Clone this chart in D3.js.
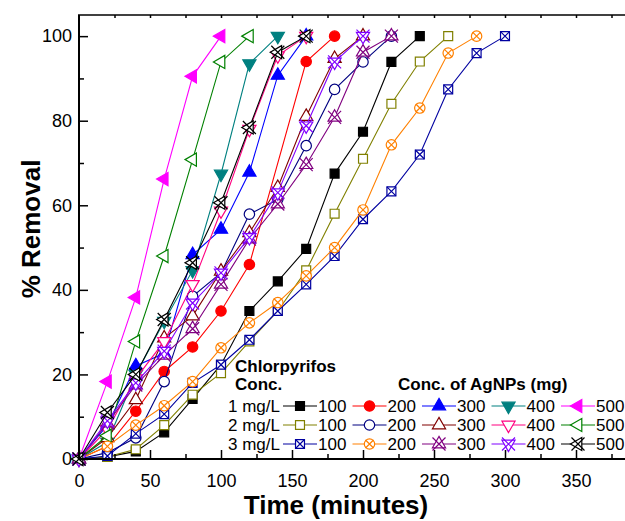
<!DOCTYPE html>
<html>
<head>
<meta charset="utf-8">
<script src="https://cdn.jsdelivr.net/npm/d3@7"></script>
<style>
  html, body { margin: 0; background: #fff; }
  svg { display: block; font-family: "Liberation Sans", Arial, sans-serif; }
</style>
</head>
<body>
<svg id="grafico" width="625" height="521"></svg>
<script>
// tempos de coleta (min)
const tempos = [0, 20, 40, 60, 80, 100, 120, 140, 160, 180, 200, 220, 240, 260, 280, 300];

// % remoção — clorpirifós 1 mg/L (null = ponto ausente)
const rem1_100 = [0, 0.5, 1.8, 6.3, 14.2, 22.3, 35, 42, 49.7, 67.5, 77.4, 93.9, 100];
const rem1_200 = [0, 3, 11.3, 20.7, 26.5, 35, 46, null, 94, 100];
const rem1_300 = [0, 8, 22, 25, 48.3, 54.3, 67.8, 90.7, 100];
const rem1_400 = [0, 4, 20, 32.6, 44.6, 67.4, 93.5, 100];
const rem1_500 = [0, 18.3, 38.2, 66.2, 90.5, 100];

// clorpirifós 2 mg/L
const rem2_100 = [0, 0.5, 2.3, 8, 15.2, 20.3, 27.8, 35, 44.6, 58, 71, 84, 94, 100];
const rem2_200 = [0, 1.5, 5, 18.3, 38.5, 44, 57.9, 61.4, 74.1, 87.4, 93.9, 100];
const rem2_300 = [0, 5, 14, 28.6, 33.8, 44.4, 53.5, 64.2, 81, 94.7, 100];
const rem2_400 = [0, 7, 19, 27.8, 41.3, 58.7, 78, 95.4, 100];
const rem2_500 = [0, 5.5, 27.8, 48, 70.8, 93.9, 100];

// clorpirifós 3 mg/L
const rem3_100 = [0, 0.7, 6, 10.6, 18, 22.3, 28.2, 35, 41.3, 48, 56.7, 63.3, 72, 87.4, 96, 100];
const rem3_200 = [0, 3, 8, 12.6, 18.3, 26.3, 32.2, 37, 43.3, 50, 58.9, 74.3, 83, 96, 100];
const rem3_300 = [0, 8.5, 17.5, 24.5, 30.8, 41.3, 52, 60.3, 69.6, 80.8, 96.2, 100];
const rem3_400 = [0, 9, 18, 25.5, 36.9, 44, 52.4, 63, 78.8, 93.9, 100];
const rem3_500 = [0, 11, 20, 33, 46.4, 60.6, 78.4, 96.2, 100];

const linhasConc = ["1 mg/L", "2 mg/L", "3 mg/L"];
const dosesAgNP = ["100", "200", "300", "400", "500"];
const ticksX = [0, 50, 100, 150, 200, 250, 300, 350];
const ticksY = [0, 20, 40, 60, 80, 100];

// estilo de cada série: [linha][dose]
const estilos = [
  [
    { cor: "#000000", forma: "quadrado", cheio: true },
    { cor: "#ff0000", forma: "circulo", cheio: true },
    { cor: "#0000ff", forma: "triCima", cheio: true },
    { cor: "#008080", forma: "triBaixo", cheio: true },
    { cor: "#ff00ff", forma: "triEsq", cheio: true }
  ],
  [
    { cor: "#808000", forma: "quadrado" },
    { cor: "#000080", forma: "circulo" },
    { cor: "#800000", forma: "triCima" },
    { cor: "#ff0080", forma: "triBaixo" },
    { cor: "#008000", forma: "triEsq" }
  ],
  [
    { cor: "#0000a0", forma: "quadrado", xis: 4.5 },
    { cor: "#ff8000", forma: "circulo", xis: 4 },
    { cor: "#800080", forma: "triCima", xis: 6.5 },
    { cor: "#8000ff", forma: "triBaixo", xis: 6.5 },
    { cor: "#000000", forma: "triEsq", xis: 6.5 }
  ]
];
const valores = [
  [rem1_100, rem1_200, rem1_300, rem1_400, rem1_500],
  [rem2_100, rem2_200, rem2_300, rem2_400, rem2_500],
  [rem3_100, rem3_200, rem3_300, rem3_400, rem3_500]
];

// eixo x vai até 400, a moldura direita fica fora do recorte
const x = d3.scaleLinear().domain([0, 400]).range([79, 647]);
const y = d3.scaleLinear().domain([0, 105]).range([459, 15]);

const svg = d3.select("#grafico");

const simbolos = {
  quadrado: { tipo: d3.symbolSquare, tam: 80, rot: 0 },
  circulo: { tipo: d3.symbolCircle, tam: 85, rot: 0 },
  triCima: { tipo: d3.symbolTriangle, tam: 75, rot: 0 },
  triBaixo: { tipo: d3.symbolTriangle, tam: 75, rot: 180 },
  triEsq: { tipo: d3.symbolTriangle, tam: 75, rot: -90 }
};

function marcador(g, est, cx, cy) {
  const s = simbolos[est.forma];
  const m = g.append("g").attr("transform", `translate(${cx},${cy})`);
  m.append("path")
    .attr("d", d3.symbol(s.tipo, s.tam)())
    .attr("transform", `rotate(${s.rot})`)
    .attr("fill", est.cheio ? est.cor : "#fff")
    .attr("stroke", est.cor)
    .attr("stroke-width", 1.2);
  if (est.xis) {
    const k = est.xis;
    m.append("path")
      .attr("d", `M${-k},${-k}L${k},${k}M${-k},${k}L${k},${-k}`)
      .attr("stroke", est.cor)
      .attr("stroke-width", 1.2)
      .attr("fill", "none");
  }
}

// séries
const linha = d3.line().x((d) => x(d.t)).y((d) => y(d.v));
const gSeries = svg.append("g");
valores.forEach((grupo, i) => {
  grupo.forEach((vals, j) => {
    const est = estilos[i][j];
    const pts = vals.map((v, k) => ({ t: tempos[k], v })).filter((d) => d.v !== null);
    const g = gSeries.append("g");
    g.append("path")
      .attr("d", linha(pts))
      .attr("fill", "none")
      .attr("stroke", est.cor)
      .attr("stroke-width", 1.1);
    pts.forEach((d) => marcador(g, est, x(d.t), y(d.v)));
  });
});

// eixos
const estiloEixo = (sel) => {
  sel.select(".domain").remove();
  sel.selectAll("line").attr("stroke", "#000").attr("stroke-width", 1.5);
  sel.selectAll("text").attr("fill", "#000").attr("font-size", "18px")
    .attr("font-family", "'Liberation Sans', Arial, sans-serif");
};

svg.append("g")
  .attr("transform", "translate(79,0)")
  .call(d3.axisLeft(y).tickValues([10, 30, 50, 70, 90]).tickSize(-5).tickFormat(""))
  .call(estiloEixo);
svg.append("g")
  .attr("transform", "translate(79,0)")
  .call(d3.axisLeft(y).tickValues(ticksY).tickSize(-9).tickPadding(7))
  .call(estiloEixo);

svg.append("g")
  .attr("transform", "translate(0,459)")
  .call(d3.axisBottom(x).tickValues(d3.range(25, 400, 50)).tickSize(-5).tickFormat(""))
  .call(estiloEixo);
svg.append("g")
  .attr("transform", "translate(0,459)")
  .call(d3.axisBottom(x).tickValues(ticksX).tickSize(-9).tickPadding(15))
  .call(estiloEixo);

svg.append("g")
  .attr("transform", "translate(0,15)")
  .call(d3.axisTop(x).tickValues(d3.range(25, 400, 25)).tickSize(-3).tickFormat(""))
  .call(estiloEixo);

// moldura
svg.append("line").attr("x1", 79).attr("x2", 79).attr("y1", 15).attr("y2", 460)
  .attr("stroke", "#000").attr("stroke-width", 2);
svg.append("line").attr("x1", 78).attr("x2", 647).attr("y1", 459).attr("y2", 459)
  .attr("stroke", "#000").attr("stroke-width", 2);
svg.append("line").attr("x1", 78).attr("x2", 647).attr("y1", 15).attr("y2", 15)
  .attr("stroke", "#000").attr("stroke-width", 1.5);

// títulos
svg.append("text")
  .attr("x", 336).attr("y", 514)
  .attr("text-anchor", "middle")
  .attr("font-size", "26px").attr("font-weight", "bold")
  .text("Time (minutes)");
svg.append("text")
  .attr("transform", "translate(40,229) rotate(-90)")
  .attr("text-anchor", "middle")
  .attr("font-size", "26px").attr("font-weight", "bold")
  .text("% Removal");

// legenda
const leg = svg.append("g").attr("font-size", "17px");
leg.append("text").attr("x", 235).attr("y", 372).attr("font-weight", "bold").text("Chlorpyrifos");
leg.append("text").attr("x", 235).attr("y", 390).attr("font-weight", "bold").text("Conc.");
leg.append("text").attr("x", 398).attr("y", 390).attr("font-weight", "bold").text("Conc. of AgNPs (mg)");

linhasConc.forEach((rotulo, i) => {
  const cy = 406 + i * 19;
  leg.append("text").attr("x", 280).attr("y", cy + 6).attr("text-anchor", "end").text(rotulo);
  dosesAgNP.forEach((dose, j) => {
    const est = estilos[i][j];
    const x0 = 283 + j * 69.5;
    leg.append("line").attr("x1", x0).attr("x2", x0 + 34).attr("y1", cy).attr("y2", cy)
      .attr("stroke", est.cor).attr("stroke-width", 1.1);
    marcador(leg, est, x0 + 17, cy);
    leg.append("text").attr("x", x0 + 35).attr("y", cy + 6).text(dose);
  });
});
</script>
</body>
</html>
